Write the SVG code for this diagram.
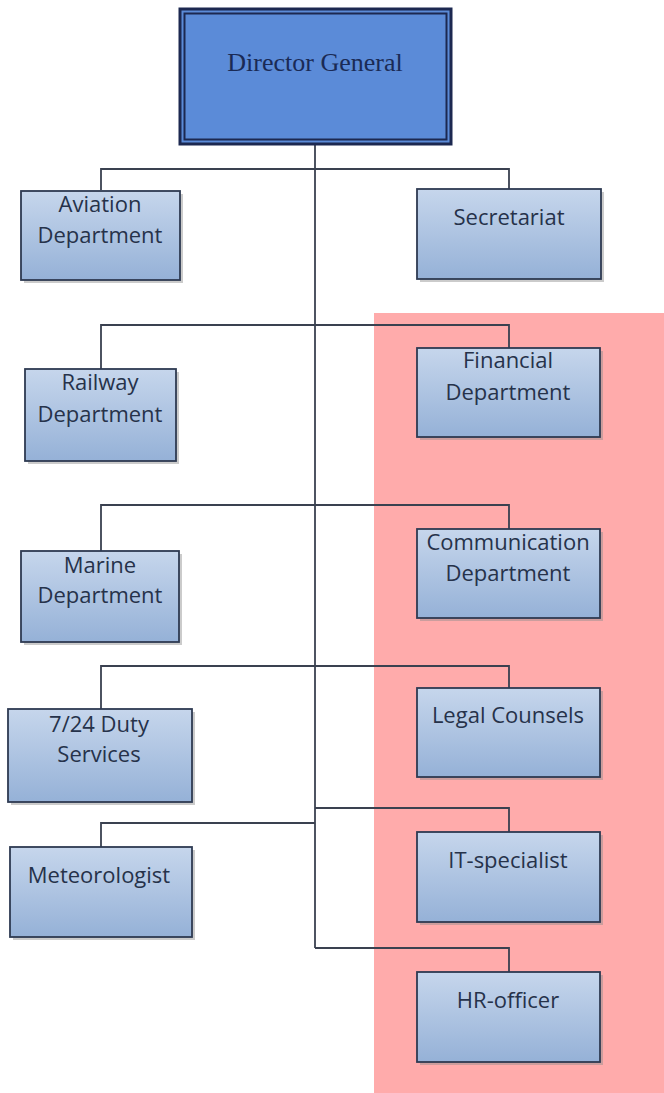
<svg xmlns="http://www.w3.org/2000/svg" width="664" height="1093" viewBox="0 0 664 1093">
  <defs>
    <linearGradient id="boxFill" x1="0" y1="0" x2="0" y2="1">
      <stop offset="0" stop-color="#c6d6ec"/>
      <stop offset="1" stop-color="#95b1d7"/>
    </linearGradient>
    <style>
      .box { fill: url(#boxFill); stroke: #2e3a52; stroke-width: 1.8; }
      .shadow { fill: #8c8c8c; opacity: 0.45; }
      .lbl { font-family: "Open Sans", "Liberation Sans", sans-serif; font-size: 22px; fill: #26324a; text-anchor: middle; }
      .conn { fill: none; stroke: #3a4150; stroke-width: 1.8; }
    </style>
  </defs>
  <rect width="664" height="1093" fill="#ffffff"/>
  <rect x="374" y="313" width="290" height="780" fill="#ffabab"/>

  <g id="connectors">
    <path class="conn" d="M315 145 V948"/>
    <path class="conn" d="M101 190 V169 H509 V189"/>
    <path class="conn" d="M101 369 V325 H509 V348"/>
    <path class="conn" d="M101 551 V505 H509 V529"/>
    <path class="conn" d="M101 709 V666 H509 V688"/>
    <path class="conn" d="M315 808 H509 V832"/>
    <path class="conn" d="M315 823 H101 V847"/>
    <path class="conn" d="M315 948 H509 V972"/>
  </g>

  <g id="director-general">
    <rect x="180" y="9" width="271" height="135" fill="#5b8bd8" stroke="#1c2850" stroke-width="3"/>
    <rect x="184.5" y="13.5" width="262" height="126" fill="none" stroke="#1c2850" stroke-width="2"/>
    <text x="315" y="71" font-family="Liberation Serif, serif" font-size="26" fill="#1a2a55" text-anchor="middle">Director General</text>
  </g>

  <g id="aviation">
    <rect class="shadow" x="24" y="194" width="159" height="89"/>
    <rect class="box" x="21" y="191" width="159" height="89"/>
    <text class="lbl" x="100" y="212">Aviation</text>
    <text class="lbl" x="100" y="243">Department</text>
  </g>

  <g id="secretariat">
    <rect class="shadow" x="420" y="192" width="184" height="90"/>
    <rect class="box" x="417" y="189" width="184" height="90"/>
    <text class="lbl" x="509" y="225">Secretariat</text>
  </g>

  <g id="railway">
    <rect class="shadow" x="28" y="372" width="151" height="92"/>
    <rect class="box" x="25" y="369" width="151" height="92"/>
    <text class="lbl" x="100" y="390">Railway</text>
    <text class="lbl" x="100" y="422">Department</text>
  </g>

  <g id="financial">
    <rect class="shadow" x="420" y="351" width="183" height="89"/>
    <rect class="box" x="417" y="348" width="183" height="89"/>
    <text class="lbl" x="508" y="368">Financial</text>
    <text class="lbl" x="508" y="400">Department</text>
  </g>

  <g id="marine">
    <rect class="shadow" x="24" y="554" width="158" height="91"/>
    <rect class="box" x="21" y="551" width="158" height="91"/>
    <text class="lbl" x="100" y="573">Marine</text>
    <text class="lbl" x="100" y="603">Department</text>
  </g>

  <g id="communication">
    <rect class="shadow" x="420" y="532" width="183" height="89"/>
    <rect class="box" x="417" y="529" width="183" height="89"/>
    <text class="lbl" x="508" y="550">Communication</text>
    <text class="lbl" x="508" y="581">Department</text>
  </g>

  <g id="duty-services">
    <rect class="shadow" x="11" y="712" width="184" height="93"/>
    <rect class="box" x="8" y="709" width="184" height="93"/>
    <text class="lbl" x="99" y="732">7/24 Duty</text>
    <text class="lbl" x="99" y="762">Services</text>
  </g>

  <g id="legal-counsels">
    <rect class="shadow" x="420" y="691" width="183" height="89"/>
    <rect class="box" x="417" y="688" width="183" height="89"/>
    <text class="lbl" x="508" y="723">Legal Counsels</text>
  </g>

  <g id="meteorologist">
    <rect class="shadow" x="13" y="850" width="182" height="90"/>
    <rect class="box" x="10" y="847" width="182" height="90"/>
    <text class="lbl" x="99" y="883">Meteorologist</text>
  </g>

  <g id="it-specialist">
    <rect class="shadow" x="420" y="835" width="183" height="90"/>
    <rect class="box" x="417" y="832" width="183" height="90"/>
    <text class="lbl" x="508" y="868">IT-specialist</text>
  </g>

  <g id="hr-officer">
    <rect class="shadow" x="420" y="975" width="183" height="90"/>
    <rect class="box" x="417" y="972" width="183" height="90"/>
    <text class="lbl" x="508" y="1008">HR-officer</text>
  </g>
</svg>
